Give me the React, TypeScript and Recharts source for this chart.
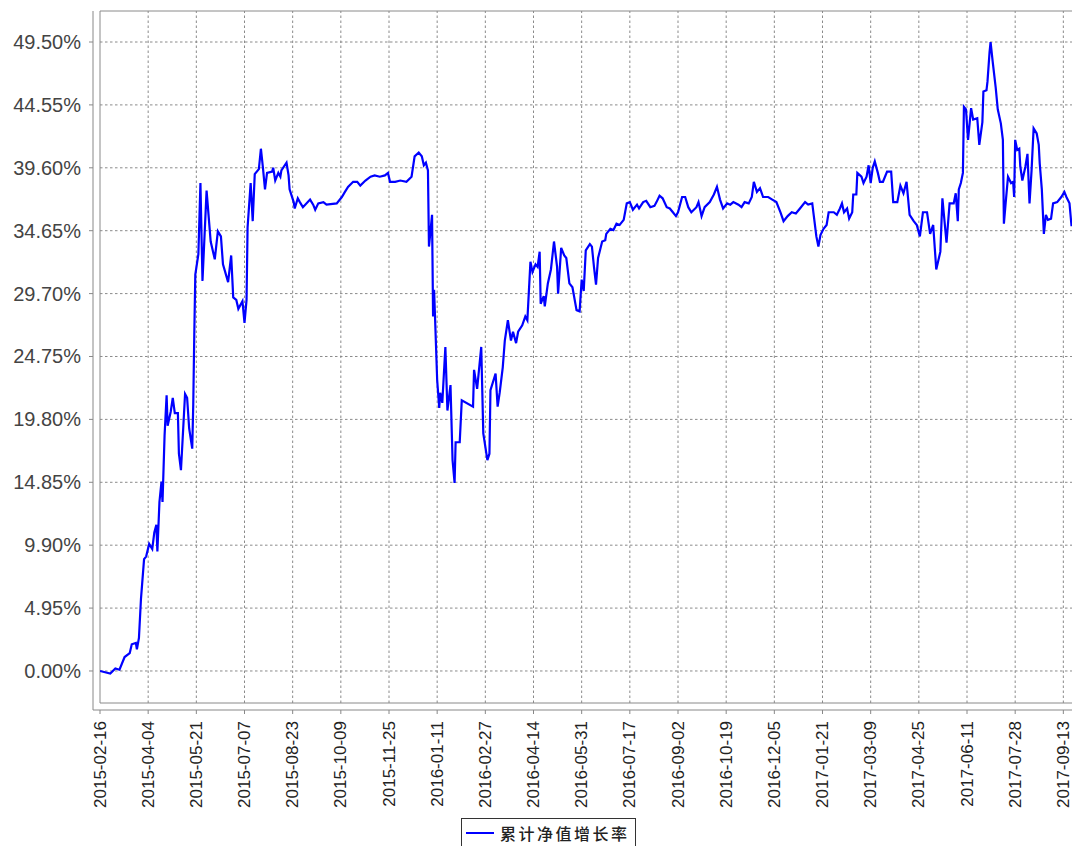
import { LineChart, Line, XAxis, YAxis, ReferenceLine, ReferenceArea, Legend } from 'recharts'

// x axis tick dates (every 47 days)
const tickDates = [
  '2015-02-16', '2015-04-04', '2015-05-21', '2015-07-07', '2015-08-23', '2015-10-09', '2015-11-25',
  '2016-01-11', '2016-02-27', '2016-04-14', '2016-05-31', '2016-07-17', '2016-09-02', '2016-10-19',
  '2016-12-05', '2017-01-21', '2017-03-09', '2017-04-25', '2017-06-11', '2017-07-28', '2017-09-13',
]

const yTicks = [0, 4.95, 9.9, 14.85, 19.8, 24.75, 29.7, 34.65, 39.6, 44.55, 49.5]

// days since 2015-02-16
const days = [
  0, 10, 15, 19, 24, 29, 31, 35, 36, 38,
  40, 43, 45, 48, 51, 53, 55, 56, 58, 60,
  61, 63, 65, 66, 69, 71, 73, 76, 77, 79,
  83, 85, 87, 90, 91, 92, 93, 96, 98, 100,
  104, 108, 112, 115, 118, 120, 125, 128, 130, 133,
  135, 139, 141, 143, 144, 147, 149, 151, 155, 157,
  159, 161, 163, 168, 169, 171, 174, 176, 177, 182,
  184, 185, 189, 190, 193, 195, 198, 205, 208, 210,
  213, 218, 221, 231, 236, 239, 242, 247, 251, 254,
  259, 264, 268, 273, 278, 281, 283, 288, 293, 299,
  304, 307, 311, 314, 316, 318, 320, 321, 324, 325,
  326, 329, 331, 332, 334, 337, 339, 342, 344, 346,
  347, 351, 353, 364, 365, 368, 372, 374, 378, 380,
  381, 386, 388, 390, 393, 395, 398, 401, 403, 406,
  408, 412, 415, 417, 420, 422, 425, 427, 429, 430,
  433, 434, 437, 440, 443, 446, 447, 450, 453, 455,
  458, 461, 465, 468, 470, 472, 474, 478, 480, 482,
  484, 486, 490, 493, 494, 498, 501, 504, 507, 511,
  514, 517, 520, 524, 526, 530, 533, 537, 541, 543,
  546, 549, 553, 556, 559, 562, 564, 568, 571, 574,
  577, 582, 584, 587, 590, 595, 599, 602, 605, 608,
  612, 615, 618, 623, 626, 629, 633, 636, 638, 641,
  644, 647, 652, 656, 660, 664, 667, 671, 675, 679,
  683, 688, 691, 695, 697, 699, 701, 703, 706, 709,
  711, 716, 719, 722, 724, 726, 729, 731, 734, 735,
  738, 739, 743, 745, 748, 750, 752, 754, 756, 759,
  761, 764, 768, 772, 774, 778, 781, 784, 787, 790,
  794, 797, 800, 803, 807, 810, 813, 816, 820, 822,
  826, 829, 833, 835, 837, 838, 840, 842, 843, 845,
  847, 850, 852, 856, 858, 861, 862, 865, 866, 868,
  869, 871, 874, 876, 879, 881, 882, 884, 886, 889,
  891, 892, 893, 895, 897, 898, 900, 903, 905, 907,
  909, 911, 914, 916, 917, 919, 921, 923, 925, 928,
  930, 934, 938, 941, 943, 946, 948,
]

// 累计净值增长率 (%)
const growth = [
  0.0, -0.2, 0.2, 0.1, 1.1, 1.4, 2.1, 2.2, 1.7, 2.6,
  5.7, 8.8, 9.0, 10.0, 9.6, 10.9, 11.5, 9.4, 13.3, 14.9,
  13.3, 18.5, 21.7, 19.3, 20.4, 21.5, 20.3, 20.3, 17.1, 15.8,
  21.8, 21.5, 19.1, 17.5, 21.0, 26.5, 31.2, 32.8, 38.4, 30.7,
  37.8, 33.8, 32.4, 34.6, 34.2, 32.0, 30.6, 32.7, 29.4, 29.2,
  28.5, 29.1, 27.4, 29.2, 34.9, 38.4, 35.4, 39.1, 39.5, 41.1,
  39.6, 37.9, 39.2, 39.3, 39.6, 38.6, 39.2, 38.9, 39.4, 40.0,
  39.0, 37.9, 36.9, 36.4, 37.2, 36.9, 36.5, 37.1, 36.7, 36.3,
  36.8, 36.9, 36.7, 36.8, 37.3, 37.7, 38.1, 38.5, 38.5, 38.2,
  38.6, 38.9, 39.0, 38.9, 39.0, 39.2, 38.5, 38.5, 38.6, 38.5,
  38.9, 40.5, 40.8, 40.5, 39.8, 40.0, 39.4, 33.4, 35.9, 27.9,
  30.0, 22.9, 20.7, 21.9, 21.1, 25.5, 20.5, 22.5, 16.6, 14.8,
  18.0, 18.0, 21.3, 20.8, 23.7, 22.2, 25.5, 18.7, 16.6, 17.1,
  22.1, 23.4, 20.8, 21.9, 23.9, 26.0, 27.6, 26.0, 26.7, 25.8,
  26.7, 27.2, 27.9, 27.6, 32.2, 31.4, 32.0, 31.8, 33.0, 28.9,
  29.5, 28.7, 30.5, 31.6, 33.8, 31.8, 29.7, 33.3, 32.7, 32.5,
  30.5, 30.2, 28.4, 28.3, 30.8, 29.9, 33.1, 33.6, 33.4, 31.8,
  30.4, 32.5, 33.8, 33.9, 34.4, 34.8, 34.7, 35.2, 35.1, 35.5,
  36.8, 36.9, 36.3, 36.7, 36.4, 36.9, 37.0, 36.5, 36.6, 36.9,
  37.4, 37.2, 36.5, 36.4, 36.1, 35.8, 36.1, 37.3, 37.3, 36.5,
  36.1, 36.5, 36.9, 35.8, 36.5, 36.9, 37.5, 38.1, 37.1, 36.4,
  36.8, 36.7, 36.9, 36.7, 36.5, 36.9, 36.8, 37.3, 38.5, 37.7,
  38.0, 37.3, 37.3, 37.1, 36.9, 36.1, 35.4, 35.8, 36.1, 36.0,
  36.4, 36.9, 36.7, 36.8, 35.5, 34.2, 33.4, 34.3, 34.8, 35.1,
  36.1, 36.1, 35.9, 36.4, 36.8, 36.1, 36.4, 35.6, 36.1, 37.5,
  37.5, 39.2, 38.9, 38.4, 38.9, 39.8, 38.4, 39.6, 40.1, 39.2,
  38.5, 38.5, 39.3, 39.3, 36.9, 36.9, 38.2, 37.6, 38.5, 35.9,
  35.4, 35.1, 34.2, 36.1, 36.1, 34.4, 35.1, 31.6, 33.0, 37.2,
  33.7, 36.8, 36.8, 37.6, 35.4, 37.9, 38.4, 39.2, 44.4, 44.2,
  41.8, 44.3, 43.4, 43.5, 41.4, 43.2, 45.6, 45.7, 46.4, 48.7,
  49.5, 48.0, 45.9, 44.2, 43.1, 41.8, 35.2, 37.1, 38.9, 38.4,
  38.5, 37.3, 41.8, 41.0, 41.1, 39.7, 38.6, 39.7, 40.7, 36.8,
  39.4, 42.7, 42.3, 41.4, 39.9, 37.9, 34.4, 35.9, 35.5, 35.6,
  36.8, 36.9, 37.3, 37.7, 37.3, 36.8, 35.0,
]

const DAY_MS = 86400000
const dayOf = (d: string) => Math.round((Date.parse(d) - Date.parse(tickDates[0])) / DAY_MS)
const xTicks = tickDates.map(dayOf)

const X_MAX = 950.4
const Y_MIN = -2.52
const Y_MAX = 51.94

const data = days.map((day, i) => ({ day, value: growth[i] }))

const gridColor = '#8a8a8a'
const axisColor = '#888'

function XTick(props: { x?: number; y?: number; payload?: { value: number } }) {
  const { x = 0, y = 0, payload } = props
  const label = payload ? tickDates[xTicks.indexOf(payload.value)] : ''
  return (
    <text
      x={x}
      y={y}
      transform={`rotate(-90, ${x}, ${y})`}
      textAnchor="end"
      dominantBaseline="central"
      fontFamily='"Liberation Sans", Arial, sans-serif'
      fontSize={17}
      fill="#222"
    >
      {label}
    </text>
  )
}

function YTick(props: { x?: number; y?: number; payload?: { value: number } }) {
  const { x = 0, y = 0, payload } = props
  return (
    <text
      x={x}
      y={y}
      textAnchor="end"
      dominantBaseline="central"
      fontFamily='"Liberation Sans", Arial, sans-serif'
      fontSize={20}
      fill="#444"
    >
      {payload ? payload.value.toFixed(2) + '%' : ''}
    </text>
  )
}

function LegendBox() {
  return (
    <div style={{ position: 'relative', height: 32 }}>
      <div
        style={{
          position: 'absolute', left: 461, top: 0, width: 173, height: 30,
          border: '1px solid #333', background: '#fff',
        }}
      >
        <svg width={28} height={4} style={{ position: 'absolute', left: 4, top: 12 }}>
          <line x1={0} y1={2} x2={28} y2={2} stroke="#0000ff" strokeWidth={2} />
        </svg>
        <span
          style={{
            position: 'absolute', left: 38, top: 4, whiteSpace: 'nowrap',
            fontFamily: '"Noto Sans CJK SC", sans-serif', fontSize: 16, fontWeight: 500,
            letterSpacing: 2.5, lineHeight: '20px', color: '#222',
          }}
        >
          累计净值增长率
        </span>
      </div>
    </div>
  )
}

export default function App() {
  return (
    <div style={{ position: 'fixed', left: 0, top: 0, width: 1072, height: 846, overflow: 'hidden', background: '#fff' }}>
      <LineChart width={1074} height={850} data={data} margin={{ top: 11, right: 0, left: 0, bottom: 0 }}>
        <XAxis
          dataKey="day"
          type="number"
          domain={[0, X_MAX]}
          allowDataOverflow
          ticks={xTicks}
          interval={0}
          padding={{ left: 7, right: 0 }}
          height={108}
          tickSize={4}
          tickMargin={7}
          stroke={axisColor}
          tick={<XTick />}
        />
        <YAxis
          type="number"
          domain={[Y_MIN, Y_MAX]}
          allowDataOverflow
          ticks={yTicks}
          interval={0}
          padding={{ top: 0, bottom: 7 }}
          width={93}
          tickSize={4}
          tickMargin={8}
          stroke={axisColor}
          tick={<YTick />}
        />
        {yTicks.map(v => (
          <ReferenceLine
            key={'h' + v}
            segment={[{ x: 0, y: v }, { x: X_MAX, y: v }]}
            stroke={gridColor}
            strokeDasharray="2.5 2.5"
            zIndex={-50}
          />
        ))}
        {xTicks.slice(1).map(t => (
          <ReferenceLine
            key={'v' + t}
            segment={[{ x: t, y: Y_MIN }, { x: t, y: Y_MAX }]}
            stroke={gridColor}
            strokeDasharray="2.5 2.5"
            zIndex={-50}
          />
        ))}
        <ReferenceArea x1={0} x2={X_MAX} y1={Y_MIN} y2={Y_MAX} fill="none" stroke={gridColor} zIndex={-50} />
        <Legend verticalAlign="bottom" height={32} content={() => <LegendBox />} />
        <Line
          type="linear"
          dataKey="value"
          stroke="#0000ff"
          strokeWidth={2.2}
          dot={false}
          isAnimationActive={false}
        />
      </LineChart>
    </div>
  )
}
